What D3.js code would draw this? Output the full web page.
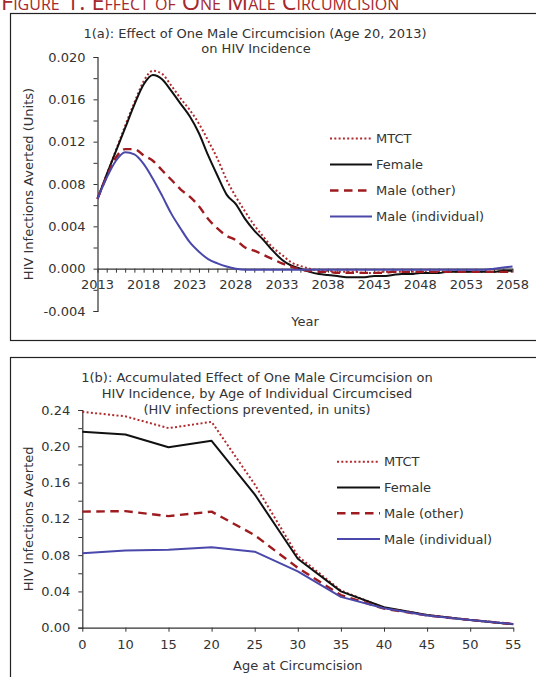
<!DOCTYPE html>
<html>
<head>
<meta charset="utf-8">
<script src="https://cdn.jsdelivr.net/npm/d3@7"></script>
<style>
  html, body { margin: 0; padding: 0; background: #fff; }
  svg { display: block; }
  text { font-family: "DejaVu Sans", Verdana, sans-serif; fill: #333; }
</style>
</head>
<body>
<svg id="chart" width="536" height="677"></svg>
<script>
// ---------- DATA ----------
const years = [2013,2014,2015,2016,2017,2018,2019,2020,2021,2022,2023,2024,2025,2026,2027,2028,2029,2030,2031,2032,
  2033,2034,2035,2036,2037,2038,2039,2040,2041,2042,2043,2044,2045,2046,2047,2048,2049,2050,2051,2052,
  2053,2054,2055,2056,2057,2058];
const yearTickLabels = [2013, 2018, 2023, 2028, 2033, 2038, 2043, 2048, 2053, 2058];

const mtctA = [0.0066,0.0089,0.0112,0.0135,0.0157,0.0177,0.0187,0.0184,0.0173,0.0161,
  0.0150,0.0137,0.0121,0.0104,0.0084,0.0068,0.0054,0.0041,0.0030,0.0020,
  0.0013,0.0006,0.00025,0.0000,-0.00016,-0.0002,-0.0003,-0.0003,-0.0003,-0.0004,
  -0.0004,-0.0003,-0.0003,-0.0003,-0.0003,-0.0003,-0.0003,-0.0003,-0.0003,-0.0003,
  -0.0003,-0.0003,-0.0003,-0.0003,-0.0003,-0.0003];
const femaleA = [0.0066,0.0089,0.0111,0.0133,0.0155,0.0174,0.0183,0.0179,0.0168,0.0156,
  0.0144,0.0128,0.0107,0.0088,0.0070,0.0061,0.0047,0.0036,0.0027,0.0017,
  0.00085,0.0003,0.0000,-0.0003,-0.0005,-0.0006,-0.0007,-0.0008,-0.0008,-0.0008,
  -0.0007,-0.0007,-0.0006,-0.0005,-0.0005,-0.0004,-0.0004,-0.0004,-0.0003,-0.0003,
  -0.0003,-0.0003,-0.0003,-0.0003,-0.0002,-0.0002];
const maleOtherA = [0.0066,0.0087,0.0105,0.0113,0.0113,0.0107,0.0102,0.0093,0.0084,0.0075,
  0.0068,0.0059,0.0047,0.0038,0.0031,0.0027,0.0020,0.0017,0.0013,0.0009,
  0.0005,0.0002,-0.0001,-0.0002,-0.0003,-0.0003,-0.0004,-0.0004,-0.0004,-0.0004,
  -0.0004,-0.0004,-0.0003,-0.0003,-0.0003,-0.0003,-0.0003,-0.0003,-0.0003,-0.0003,
  -0.0003,-0.0003,-0.0003,-0.0003,-0.0003,-0.0003];
const maleIndA = [0.0066,0.0086,0.0102,0.0110,0.0108,0.0099,0.0085,0.0069,0.0052,0.0038,
  0.0025,0.0016,0.0009,0.0005,0.0002,0.0000,-0.0001,-0.0001,-0.0001,-0.0001,
  -0.0001,-0.0001,-0.0001,-0.0001,-0.0001,-0.0001,-0.0001,-0.0001,-0.0001,-0.0001,
  -0.0001,-0.0001,-0.0001,-0.0001,-0.0001,-0.0001,-0.0001,-0.0001,-0.0001,-0.0001,
  -0.0001,-0.0001,-0.0001,0.0000,0.0001,0.0002];
const yTicksA = [-0.004, 0.000, 0.004, 0.008, 0.012, 0.016, 0.020];
const yMinorA = [-0.004,-0.002,0.000,0.002,0.004,0.006,0.008,0.010,0.012,0.014,0.016,0.018,0.020];

const ages = ["0","10","15","20","25","30","35","40","45","50","55"];
const mtctB = [0.238,0.233,0.220,0.227,0.158,0.079,0.041,0.022,0.014,0.0085,0.004];
const femaleB = [0.216,0.213,0.199,0.206,0.147,0.076,0.040,0.0225,0.014,0.0085,0.0037];
const maleOtherB = [0.128,0.1285,0.123,0.128,0.102,0.066,0.036,0.021,0.0135,0.0085,0.004];
const maleIndB = [0.082,0.085,0.086,0.0886,0.0838,0.062,0.034,0.0214,0.0135,0.0085,0.004];
const yTicksB = [0.00,0.04,0.08,0.12,0.16,0.20,0.24];
const yMinorB = [0.00,0.02,0.04,0.06,0.08,0.10,0.12,0.14,0.16,0.18,0.20,0.22,0.24];

const seriesNames = ["MTCT", "Female", "Male (other)", "Male (individual)"];

// ---------- STYLE ----------
const styles = {
  "MTCT": {color: "#b02a2e", width: 2, dash: "2,2.3"},
  "Female": {color: "#111", width: 2, dash: null},
  "Male (other)": {color: "#9e1b1f", width: 2.4, dash: "8.5,5.5"},
  "Male (individual)": {color: "#4a48aa", width: 2, dash: null}
};

const svg = d3.select("#chart");

// header
svg.append("text")
  .attr("x", 1).attr("y", 10)
  .style("font-family", "'Open Sans', 'Noto Sans', sans-serif")
  .style("font-size", "23.5px")
  .style("font-variant", "small-caps")
  .style("fill", "#a5282c")
  .text("Figure 1: Effect of One Male Circumcision");

// panel boxes
svg.append("rect").attr("x", 10.5).attr("y", 13.5).attr("width", 540).attr("height", 327)
  .attr("fill", "none").attr("stroke", "#222").attr("stroke-width", 1.2);
svg.append("rect").attr("x", 10.5).attr("y", 357.5).attr("width", 540).attr("height", 340)
  .attr("fill", "none").attr("stroke", "#222").attr("stroke-width", 1.2);

function legend(g, x0, x1, y0, dy) {
  seriesNames.forEach((name, i) => {
    const s = styles[name];
    const y = y0 + i * dy;
    g.append("line").attr("x1", x0).attr("x2", x1).attr("y1", y).attr("y2", y)
      .attr("stroke", s.color).attr("stroke-width", s.width)
      .attr("stroke-dasharray", s.dash);
    g.append("text").attr("x", x1 + 4).attr("y", y).attr("dy", "0.35em")
      .style("font-size", "13px").text(name);
  });
}

// ---------- PANEL A ----------
{
  const x = d3.scaleLinear().domain([2013, 2058]).range([97.5, 512.5]);
  const y = d3.scaleLinear().domain([-0.004, 0.020]).range([311, 57]);
  const g = svg.append("g");

  g.append("text").attr("x", 255).attr("y", 38).attr("text-anchor", "middle")
    .style("font-size", "13px").text("1(a): Effect of One Male Circumcision (Age 20, 2013)");
  g.append("text").attr("x", 256).attr("y", 53).attr("text-anchor", "middle")
    .style("font-size", "13px").text("on HIV Incidence");

  const yAxis = d3.axisLeft(y).tickValues(yMinorA).tickSize(4).tickFormat("");
  const ya = g.append("g").attr("transform", `translate(${x(2013)},0)`).call(yAxis);
  ya.select(".domain").attr("stroke", "#333").attr("stroke-width", 1.2);
  ya.selectAll(".tick line").attr("stroke", "#333");
  g.selectAll(".ylabA").data(yTicksA).enter().append("text")
    .attr("x", x(2013) - 12).attr("y", d => y(d)).attr("dy", "0.35em")
    .attr("text-anchor", "end").style("font-size", "13px")
    .text(d => d3.format(".3f")(d).replace("−", "-"));

  const xAxis = d3.axisBottom(x).tickValues(years).tickSize(4).tickFormat("").tickSizeOuter(0);
  const xa = g.append("g").attr("transform", `translate(0,${y(0)})`).call(xAxis);
  xa.select(".domain").attr("stroke", "#333").attr("stroke-width", 1.2);
  xa.selectAll(".tick line").attr("stroke", "#333");
  g.selectAll(".xlabA").data(yearTickLabels).enter().append("text")
    .attr("x", d => x(d)).attr("y", y(0) + 16).attr("dy", "0.35em")
    .attr("text-anchor", "middle").style("font-size", "13px").text(d => d);

  g.append("text").attr("transform", `translate(28,${(y(-0.004) + y(0.020)) / 2}) rotate(-90)`)
    .attr("text-anchor", "middle").attr("dy", "0.35em").style("font-size", "13px")
    .text("HIV Infections Averted (Units)");
  g.append("text").attr("x", (x(2013) + x(2058)) / 2).attr("y", 321).attr("dy", "0.35em")
    .attr("text-anchor", "middle").style("font-size", "13px").text("Year");

  const dataA = {"MTCT": mtctA, "Female": femaleA, "Male (other)": maleOtherA, "Male (individual)": maleIndA};
  const line = d3.line().x((d, i) => x(years[i])).y(d => y(d)).curve(d3.curveMonotoneX);
  seriesNames.forEach(name => {
    const s = styles[name];
    g.append("path").datum(dataA[name]).attr("d", line).attr("fill", "none")
      .attr("stroke", s.color).attr("stroke-width", s.width)
      .attr("stroke-dasharray", s.dash).attr("stroke-linejoin", "round");
  });

  legend(g, 330, 372, 138.5, 26);
}

// ---------- PANEL B ----------
{
  const x = d3.scalePoint().domain(ages).range([82.3, 513.3]);
  const y = d3.scaleLinear().domain([0, 0.24]).range([627.7, 410]);
  const g = svg.append("g");

  g.append("text").attr("x", 257).attr("y", 381.5).attr("text-anchor", "middle")
    .style("font-size", "13px").text("1(b): Accumulated Effect of One Male Circumcision on");
  g.append("text").attr("x", 257).attr("y", 397.5).attr("text-anchor", "middle")
    .style("font-size", "13px").text("HIV Incidence, by Age of Individual Circumcised");
  g.append("text").attr("x", 257).attr("y", 413.5).attr("text-anchor", "middle")
    .style("font-size", "13px").text("(HIV infections prevented, in units)");

  const yAxis = d3.axisLeft(y).tickValues(yMinorB).tickSize(4).tickFormat("");
  const ya = g.append("g").attr("transform", `translate(${x("0")},0)`).call(yAxis);
  ya.select(".domain").attr("stroke", "#333").attr("stroke-width", 1.2);
  ya.selectAll(".tick line").attr("stroke", "#333");
  g.selectAll(".ylabB").data(yTicksB).enter().append("text")
    .attr("x", x("0") - 12).attr("y", d => y(d)).attr("dy", "0.35em")
    .attr("text-anchor", "end").style("font-size", "13px")
    .text(d => d3.format(".2f")(d));

  const xAxis = d3.axisBottom(x).tickSize(4).tickFormat("").tickSizeOuter(0);
  const xa = g.append("g").attr("transform", `translate(0,${y(0)})`).call(xAxis);
  xa.select(".domain").attr("stroke", "#333").attr("stroke-width", 1.2);
  xa.selectAll(".tick line").attr("stroke", "#333");
  g.selectAll(".xlabB").data(ages).enter().append("text")
    .attr("x", d => x(d)).attr("y", y(0) + 17).attr("dy", "0.35em")
    .attr("text-anchor", "middle").style("font-size", "13px").text(d => d);

  g.append("text").attr("transform", `translate(28,${(y(0) + y(0.24)) / 2}) rotate(-90)`)
    .attr("text-anchor", "middle").attr("dy", "0.35em").style("font-size", "13px")
    .text("HIV Infections Averted");
  g.append("text").attr("x", (x("0") + x("55")) / 2).attr("y", 665).attr("dy", "0.35em")
    .attr("text-anchor", "middle").style("font-size", "13px").text("Age at Circumcision");

  const dataB = {"MTCT": mtctB, "Female": femaleB, "Male (other)": maleOtherB, "Male (individual)": maleIndB};
  const line = d3.line().x((d, i) => x(ages[i])).y(d => y(d));
  seriesNames.forEach(name => {
    const s = styles[name];
    g.append("path").datum(dataB[name]).attr("d", line).attr("fill", "none")
      .attr("stroke", s.color).attr("stroke-width", s.width)
      .attr("stroke-dasharray", s.dash).attr("stroke-linejoin", "round");
  });

  legend(g, 337, 380, 461.7, 25.8);
}
</script>
</body>
</html>
